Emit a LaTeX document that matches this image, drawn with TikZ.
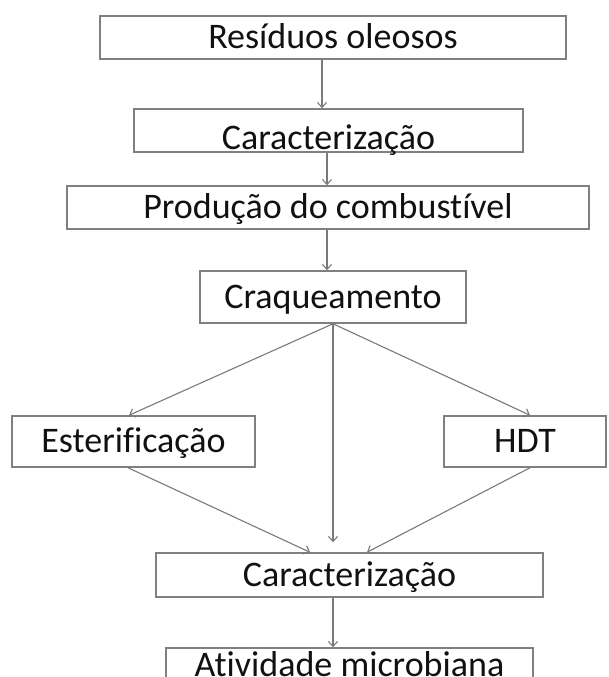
\documentclass[tikz,border=0pt]{standalone}
\usepackage{fontspec}
\setmainfont{Carlito}[RawFeature={-liga;-clig;-dlig}]
\usetikzlibrary{arrows.meta}
\definecolor{boxgray}{HTML}{808080}
\definecolor{linegray}{HTML}{7A7A7A}
\definecolor{txt}{HTML}{111111}
\begin{document}
\begin{tikzpicture}[x=1pt,y=-1pt,
  box/.style={draw=boxgray, line width=1.5pt, inner sep=0pt, text=txt,
    text height=22.5pt, text depth=0pt, font=\fontsize{36}{40}\selectfont},
  arr/.style={draw=linegray, line width=1.1pt, -{Straight Barb[length=5pt,width=9pt]}}]
\useasboundingbox (0,0) rectangle (608,677);
\fill[white] (0,0) rectangle (608,677);
\clip (0,0) rectangle (608,677);
\node[box, minimum width=466pt, minimum height=43pt] (r1) at (333,37.5) {Resíduos oleosos};
\node[box, minimum width=389pt, minimum height=43pt, text height=37pt] (c1) at (328.5,130.5) {Caracterização};
\node[box, minimum width=522pt, minimum height=43pt] (p) at (328,207.5) {Produção do combustível};
\node[box, minimum width=266pt, minimum height=52pt] (cr) at (333,297) {Craqueamento};
\node[box, minimum width=243pt, minimum height=51pt] (es) at (133.5,441.5) {Esterificação};
\node[box, minimum width=162pt, minimum height=51pt] (hdt) at (525,441.5) {HDT};
\node[box, minimum width=387pt, minimum height=44pt] (c2) at (349.5,575) {Caracterização};
\node[box, minimum width=367pt, minimum height=44pt, text height=12pt] (at) at (349.5,670) {Atividade microbiana};
\draw[arr] ([xshift=-11pt]r1.south) -- ([xshift=-6.5pt]c1.north);
\draw[arr] ([xshift=-1.5pt]c1.south) -- ([xshift=-1pt]p.north);
\draw[arr] ([xshift=-1pt]p.south) -- ([xshift=-6pt]cr.north);
\draw[arr] (cr.south) -- ([xshift=-4.5pt]es.north);
\draw[arr] (cr.south) -- ([xshift=5pt]hdt.north);
\draw[arr, shorten >=10pt] (cr.south) -- ([xshift=-16.5pt]c2.north);
\draw[arr] ([xshift=-5.5pt]es.south) -- ([xshift=-39.5pt]c2.north);
\draw[arr] ([xshift=5pt]hdt.south) -- ([xshift=17.5pt]c2.north);
\draw[arr] ([xshift=-16.5pt]c2.south) -- ([xshift=-16.5pt]at.north);
\end{tikzpicture}
\end{document}
